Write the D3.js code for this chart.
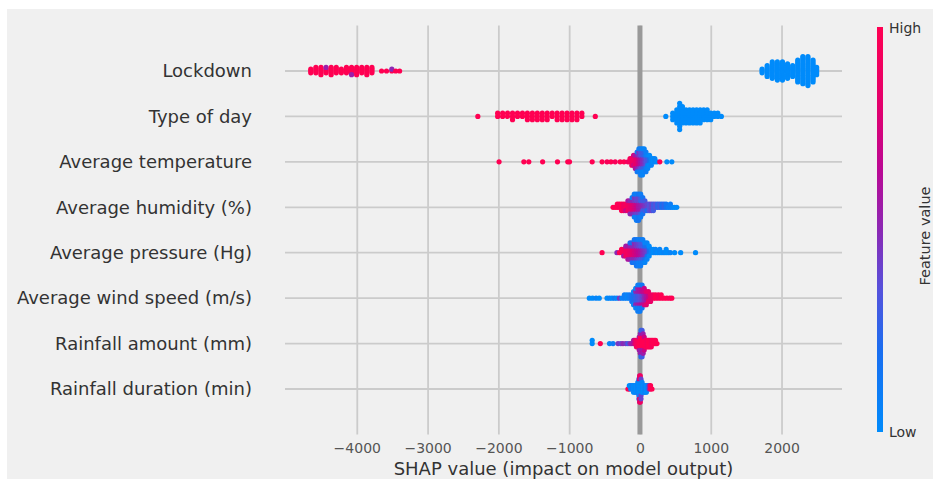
<!DOCTYPE html>
<html>
<head>
<meta charset="utf-8">
<script src="https://cdn.jsdelivr.net/npm/d3@7"></script>
<style>
  body { margin: 0; background: #fff; }
  text { font-family: "DejaVu Sans", sans-serif; }
</style>
</head>
<body>
<div id="chart"></div>
<script>
// feature names, top to bottom
var features = ["Lockdown", "Type of day", "Average temperature", "Average humidity (%)",
  "Average pressure (Hg)", "Average wind speed (m/s)", "Rainfall amount (mm)", "Rainfall duration (min)"];

var xTicks = [-4000, -3000, -2000, -1000, 0, 1000, 2000];

// points: [shap value, number of points, feature value 0..1]
var lockdownPts = [
  [-4650,3,1],[-4578,4,1],[-4506,5,1],[-4434,3,1],[-4434,1,0.55],[-4362,5,1],[-4290,4,1],[-4218,3,1],
  [-4146,4,1],[-4074,4,1],[-4074,1,0.55],[-4002,5,1],[-3930,4,1],[-3858,5,1],[-3786,4,1],
  [-3650,1,1],[-3580,1,1],[-3505,1,1],[-3505,1,0.5],[-3450,1,1],[-3395,1,1],
  [1725,3,0],[1797,7,0],[1869,10,0],[1941,11,0],[2013,11,0],[2085,9,0],[2157,7,0],[2229,13,0],
  [2301,16,0],[2373,17,0],[2445,13,0],[2496,5,0]
];
var typeOfDayPts = [
  [-2290,1,1],[-2010,2,1],[-1940,2,1],[-1870,2,1],[-1800,3,1],[-1730,2,1],[-1660,2,1],[-1590,3,1],
  [-1520,3,1],[-1450,3,1],[-1380,3,1],[-1310,3,1],[-1240,2,1],[-1170,3,1],[-1100,3,1],[-1030,3,1],
  [-960,3,1],[-890,3,1],[-820,2,1],[-631,1,1],
  [365,1,0],[463,3,0],[520,5,0],[561,9,0],[600,6,0],[650,5,0],[700,5,0],[750,5,0],[800,5,0],
  [850,5,0],[900,4,0],[950,4,0],[1000,3,0],[1050,2,0],[1100,2,0],[1150,1,0]
];
var temperaturePts = [
  [-1990,1,1],[-1640,1,1],[-1570,1,1],[-1375,1,1],[-1165,1,1],[-1020,1,1],[-995,1,1],[-675,1,1],
  [-535,1,1],[-465,1,0.95],[-410,1,1],[-350,1,0.95],[-280,1,1],[-225,1,1],[-170,1,0.9],
  [-140,2,0.95],[-115,3,0.9],[-90,2,0.9],[-90,2,0.75],[-65,3,0.85],[-65,2,0.6],
  [-40,3,0.8],[-40,2,0.55],[-40,2,0.15],[-15,3,0.7],[-15,3,0.45],[-15,2,0.1],
  [10,3,0.6],[10,3,0.35],[10,3,0.1],[35,3,0.5],[35,3,0.3],[35,3,0.05],
  [60,3,0.45],[60,3,0.25],[60,2,0.05],[85,3,0.35],[85,4,0.1],[110,2,0.3],[110,3,0.05],
  [135,2,0.2],[135,2,0],[160,3,0.05],[185,2,0],[210,2,0.05],[240,1,0],[280,1,1],[380,1,0],[450,1,0]
];
var humidityPts = [
  [-380,1,1],[-350,1,1],[-320,2,1],[-290,2,0.95],[-260,3,1],[-230,3,0.9],[-200,2,0.95],[-200,1,0.7],
  [-170,3,0.9],[-170,1,0.6],[-140,3,0.85],[-140,2,0.5],[-110,3,0.8],[-110,2,0.5],[-110,1,0.1],
  [-80,3,0.75],[-80,3,0.45],[-80,2,0.1],[-50,3,0.7],[-50,3,0.4],[-50,3,0.1],
  [-20,3,0.6],[-20,3,0.4],[-20,3,0.15],[10,3,0.55],[10,3,0.3],[10,2,0.1],
  [40,2,0.5],[40,2,0.3],[40,2,0.15],[70,2,0.45],[70,2,0.3],[100,2,0.4],[100,1,0.2],
  [130,3,0.35],[160,3,0.4],[190,3,0.3],[220,2,0.35],[250,2,0.25],[280,2,0.3],[310,2,0.2],
  [340,2,0.25],[370,2,0.15],[400,1,0.1],[430,2,0.1],[460,1,0.05],[490,1,0],[520,1,0]
];
var pressurePts = [
  [-535,1,1],[-325,1,0.5],[-290,1,1],[-260,2,1],[-230,2,0.95],[-230,1,0.6],
  [-200,3,0.9],[-200,1,0.55],[-170,3,0.9],[-170,2,0.6],[-140,3,0.85],[-140,2,0.55],[-140,1,0.2],
  [-110,3,0.8],[-110,2,0.5],[-110,2,0.2],[-80,3,0.75],[-80,3,0.5],[-80,2,0.15],
  [-50,3,0.7],[-50,3,0.45],[-50,3,0.15],[-20,3,0.65],[-20,3,0.4],[-20,3,0.1],
  [10,3,0.6],[10,3,0.35],[10,3,0.1],[40,3,0.5],[40,3,0.3],[40,2,0.1],
  [70,3,0.45],[70,2,0.2],[70,2,0.05],[100,2,0.4],[100,2,0.2],[100,2,0.05],
  [130,2,0.2],[130,2,0],[160,2,0.05],[190,2,0],[220,2,0.05],[250,1,0],[280,2,0.05],
  [310,1,0],[340,1,0.05],[370,2,0],[400,1,0],[430,1,0.05],[490,1,0],[575,1,0],[785,1,0]
];
var windPts = [
  [-715,1,0],[-670,1,0],[-620,1,0.05],[-575,1,0],[-465,1,0],[-430,1,0.05],[-395,1,0],[-360,1,0.1],
  [-325,1,0],[-290,1,0.45],[-255,1,0.05],[-220,2,0.1],[-185,2,0.05],[-150,2,0.1],
  [-115,3,0.15],[-90,3,0.2],[-90,2,0.05],[-60,3,0.25],[-60,2,0.5],[-60,2,0.05],
  [-30,3,0.3],[-30,3,0.55],[-30,3,0.1],[0,3,0.35],[0,3,0.6],[0,3,0.1],
  [30,3,0.4],[30,3,0.65],[30,2,0.15],[60,3,0.5],[60,3,0.7],[90,3,0.6],[90,2,0.8],
  [120,2,0.7],[120,2,0.85],[150,3,0.85],[185,2,0.9],[220,2,1],[260,2,0.95],[300,2,1],
  [340,1,1],[380,1,1],[420,1,0.95],[450,1,1]
];
var rainAmountPts = [
  [-675,2,0],[-560,1,1],[-430,1,0.05],[-380,1,0.1],[-310,1,0.45],[-270,1,0.4],[-240,1,0.5],
  [-200,1,0.45],[-170,1,0.3],[-140,1,0.5],[-115,1,0.55],[-90,2,0.6],[-70,2,0.8],[-50,3,0.9],
  [-30,3,0.95],[-10,3,1],[-10,2,0.6],[5,4,1],[5,3,0.55],[15,4,1],[15,3,0.5],[15,2,0.2],
  [30,4,1],[30,3,0.6],[30,2,0.3],[45,4,1],[45,3,0.55],[60,3,1],[60,2,0.7],[80,3,1],
  [100,3,0.95],[120,3,1],[140,3,1],[160,3,0.95],[180,2,1],[200,2,1],[220,2,1],[240,1,1]
];
var rainDurationPts = [
  [-170,1,1],[-150,1,1],[-150,1,0],[-130,2,0],[-110,2,0.1],[-90,3,0],[-70,3,0.05],[-50,3,0],
  [-30,4,0.1],[-15,4,0],[-15,3,0.3],[-5,5,0],[-5,4,0.8],[5,5,0.05],[5,4,0.9],[15,4,0],
  [15,3,0.4],[30,4,0.05],[50,3,0],[70,3,0.1],[90,3,0],[110,2,0.05],[130,2,0.5],[150,2,1],[170,1,1]
];

var allPts = [lockdownPts, typeOfDayPts, temperaturePts, humidityPts,
  pressurePts, windPts, rainAmountPts, rainDurationPts];

var width = 939, height = 486;

var svg = d3.select("#chart").append("svg")
  .attr("width", width)
  .attr("height", height);

svg.append("rect")
  .attr("x", 7).attr("y", 9)
  .attr("width", 926).attr("height", 470)
  .attr("fill", "#f0f0f0");

var x = d3.scaleLinear().domain([-5014, 2854]).range([285, 842]);
// row position: 0 = bottom feature
var y = d3.scaleLinear().domain([-1, 8]).range([434.4, 25.6]);

var color = d3.scaleLinear()
  .domain([0, 0.2, 0.35, 0.5, 0.65, 0.8, 1])
  .range(["#008bfb", "#1a6ef0", "#5552dc", "#8c28b4", "#bb0894", "#e2006e", "#ff0052"]);

// vertical grid + tick labels
var xAxis = svg.append("g")
  .attr("transform", "translate(0," + y(-1) + ")")
  .call(d3.axisBottom(x).tickValues(xTicks).tickFormat(d3.format("d"))
    .tickSize(-(y(-1) - y(8))).tickPadding(9));
xAxis.select(".domain").remove();
xAxis.selectAll(".tick line").attr("stroke", "#cbcbcb").attr("stroke-width", 1.8);
xAxis.selectAll(".tick text").attr("fill", "#555").style("font-size", "14px");

svg.append("text")
  .attr("x", (x.range()[0] + x.range()[1]) / 2)
  .attr("y", 475)
  .attr("text-anchor", "middle")
  .attr("fill", "#333")
  .style("font-size", "18px")
  .text("SHAP value (impact on model output)");

// row lines and labels
features.forEach(function(f, i) {
  var pos = features.length - 1 - i;
  svg.append("line")
    .attr("x1", x.range()[0]).attr("x2", x.range()[1])
    .attr("y1", y(pos)).attr("y2", y(pos))
    .attr("stroke", "#cbcbcb").attr("stroke-width", 1.8);
  svg.append("text")
    .attr("x", 252).attr("y", y(pos))
    .attr("dy", "0.35em")
    .attr("text-anchor", "end")
    .attr("fill", "#333")
    .style("font-size", "18px")
    .text(f);
});

// zero line
svg.append("line")
  .attr("x1", x(0)).attr("x2", x(0))
  .attr("y1", y(8)).attr("y2", y(-1))
  .attr("stroke", "#999").attr("stroke-width", 5);

// beeswarm layout like shap: quantize into 100 bins, stack alternately
function swarm(entries) {
  var pts = [];
  entries.forEach(function(e) {
    for (var k = 0; k < e[1]; k++) pts.push({v: e[0], c: e[2]});
  });
  var lo = d3.min(pts, function(p) { return p.v; }),
      hi = d3.max(pts, function(p) { return p.v; });
  pts.forEach(function(p, i) {
    p.q = Math.round(100 * (p.v - lo) / (hi - lo + 1e-8));
    p.i = i;
  });
  var order = pts.slice().sort(function(a, b) { return a.q - b.q || a.i - b.i; });
  var layer = 0, last = -1;
  order.forEach(function(p) {
    if (p.q !== last) layer = 0;
    p.ys = Math.ceil(layer / 2) * ((layer % 2) * 2 - 1);
    layer++;
    last = p.q;
  });
  var m = d3.max(pts, function(p) { return p.ys + 1; });
  pts.forEach(function(p) { p.ys *= 0.9 * (0.4 / m); });
  return pts;
}

allPts.forEach(function(entries, i) {
  var pos = features.length - 1 - i;
  var pts = swarm(entries);
  svg.append("g").selectAll("circle")
    .data(pts)
    .join("circle")
      .attr("cx", function(d) { return x(d.v); })
      .attr("cy", function(d) { return y(pos + d.ys); })
      .attr("r", 2.6)
      .attr("fill", function(d) { return color(d.c); });
});

// colour bar
var defs = svg.append("defs");
var grad = defs.append("linearGradient")
  .attr("id", "cbar").attr("x1", 0).attr("y1", 1).attr("x2", 0).attr("y2", 0);
color.domain().forEach(function(t) {
  grad.append("stop").attr("offset", t).attr("stop-color", color(t));
});
svg.append("rect")
  .attr("x", 877).attr("y", 27)
  .attr("width", 6).attr("height", 405)
  .attr("fill", "url(#cbar)");

svg.append("text").attr("x", 889).attr("y", 33)
  .attr("fill", "#333").style("font-size", "14px").text("High");
svg.append("text").attr("x", 889).attr("y", 437)
  .attr("fill", "#333").style("font-size", "14px").text("Low");
svg.append("text")
  .attr("transform", "translate(930,236) rotate(-90)")
  .attr("text-anchor", "middle")
  .attr("fill", "#333")
  .style("font-size", "14.5px")
  .text("Feature value");
</script>
</body>
</html>
